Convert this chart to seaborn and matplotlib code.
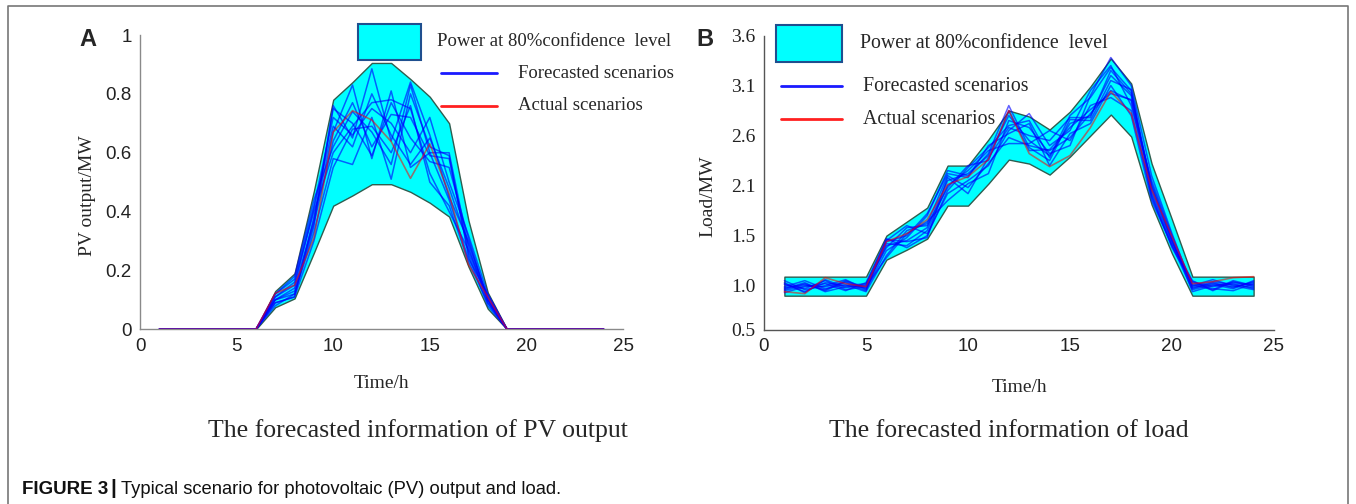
import matplotlib
matplotlib.use("Agg")
import matplotlib.pyplot as plt
from matplotlib.patches import Rectangle
from matplotlib.lines import Line2D
import seaborn as sns
import numpy as np
import pandas as pd

sns.set_style("white")
plt.rcParams['font.family'] = ['Liberation Sans', 'DejaVu Sans']

hours = list(range(1, 25))

# panel A - PV output (MW)
pv_upper = [0, 0, 0, 0, 0, 0, 0.13, 0.19, 0.47, 0.78, 0.84, 0.905, 0.905, 0.85, 0.79, 0.70, 0.37, 0.125, 0, 0, 0, 0, 0, 0]
pv_lower = [0, 0, 0, 0, 0, 0, 0.075, 0.105, 0.26, 0.42, 0.455, 0.493, 0.493, 0.467, 0.43, 0.383, 0.213, 0.07, 0, 0, 0, 0, 0, 0]
pv_actual = [0, 0, 0, 0, 0, 0, 0.122, 0.15, 0.31, 0.67, 0.743, 0.711, 0.638, 0.513, 0.63, 0.46, 0.22, 0.11, 0, 0, 0, 0, 0, 0]
pv_day = [  # hours 7..18 of each forecasted scenario, zero otherwise
    [0.10, 0.12, 0.35, 0.76, 0.65, 0.885, 0.64, 0.84, 0.66, 0.45, 0.30, 0.10],
    [0.09, 0.11, 0.38, 0.67, 0.83, 0.58, 0.81, 0.55, 0.60, 0.60, 0.28, 0.09],
    [0.11, 0.16, 0.40, 0.60, 0.69, 0.77, 0.78, 0.75, 0.53, 0.40, 0.27, 0.11],
    [0.08, 0.12, 0.33, 0.58, 0.56, 0.72, 0.51, 0.80, 0.62, 0.59, 0.25, 0.08],
    [0.12, 0.17, 0.42, 0.72, 0.66, 0.75, 0.70, 0.60, 0.72, 0.50, 0.32, 0.12],
    [0.10, 0.13, 0.36, 0.64, 0.77, 0.62, 0.73, 0.72, 0.59, 0.58, 0.26, 0.10],
    [0.09, 0.11, 0.30, 0.55, 0.68, 0.69, 0.60, 0.76, 0.50, 0.42, 0.23, 0.09],
    [0.11, 0.15, 0.41, 0.69, 0.62, 0.80, 0.66, 0.56, 0.65, 0.48, 0.29, 0.11],
    [0.10, 0.14, 0.37, 0.75, 0.70, 0.59, 0.77, 0.65, 0.57, 0.55, 0.31, 0.10],
    [0.12, 0.18, 0.44, 0.62, 0.74, 0.67, 0.56, 0.83, 0.60, 0.44, 0.24, 0.12],
]
pv_forecast = [[0] * 6 + s + [0] * 6 for s in pv_day]

# panel B - load (MW)
load_upper = [1.09] * 5 + [1.50, 1.64, 1.78, 2.20, 2.20, 2.46, 2.75, 2.69, 2.56, 2.74, 2.99, 3.27, 3.02, 2.22, 1.66] + [1.09] * 4
load_lower = [0.90] * 5 + [1.26, 1.36, 1.47, 1.80, 1.80, 2.02, 2.26, 2.22, 2.11, 2.29, 2.50, 2.71, 2.49, 1.81, 1.32] + [0.90] * 4
load_actual = [0.94, 0.92, 1.08, 1.02, 0.99, 1.44, 1.52, 1.66, 2.01, 2.09, 2.26, 2.75, 2.32, 2.19, 2.30, 2.58, 2.94, 2.72, 1.96, 1.49, 1.02, 1.04, 1.08, 1.09]
load_forecast = [
    [0.96, 1.02, 0.95, 1.04, 0.97, 1.40, 1.45, 1.58, 2.05, 2.12, 2.30, 2.70, 2.45, 2.30, 2.62, 2.70, 3.10, 2.90, 2.00, 1.45, 0.98, 1.02, 0.99, 1.03],
    [1.03, 0.93, 1.06, 0.98, 1.01, 1.47, 1.38, 1.50, 1.95, 2.18, 2.38, 2.60, 2.65, 2.28, 2.70, 2.88, 3.18, 2.95, 1.92, 1.42, 1.05, 0.95, 1.04, 0.99],
    [0.99, 1.05, 0.97, 1.01, 0.94, 1.30, 1.55, 1.62, 2.10, 1.98, 2.22, 2.48, 2.40, 2.35, 2.48, 2.72, 2.95, 2.85, 1.88, 1.40, 0.96, 1.01, 0.97, 1.05],
    [0.93, 0.99, 1.02, 0.95, 1.03, 1.45, 1.60, 1.52, 1.92, 2.05, 2.20, 2.55, 2.72, 2.40, 2.55, 2.95, 3.20, 2.80, 2.05, 1.50, 1.00, 1.06, 1.00, 0.96],
    [1.05, 0.96, 1.00, 1.06, 0.96, 1.35, 1.48, 1.70, 2.15, 2.10, 2.32, 2.80, 2.38, 2.25, 2.66, 2.65, 3.05, 2.96, 1.98, 1.46, 0.94, 1.00, 1.03, 1.01],
    [0.97, 1.03, 0.94, 0.99, 1.00, 1.42, 1.40, 1.55, 2.00, 2.15, 2.35, 2.42, 2.42, 2.55, 2.45, 2.80, 2.88, 2.75, 1.90, 1.38, 1.03, 0.97, 0.95, 1.02],
    [1.01, 0.97, 1.05, 0.96, 0.99, 1.28, 1.52, 1.64, 1.85, 2.02, 2.12, 2.65, 2.58, 2.32, 2.40, 2.90, 3.28, 3.00, 2.10, 1.52, 0.99, 1.04, 1.01, 0.98],
    [0.95, 1.00, 0.99, 1.03, 0.95, 1.46, 1.44, 1.48, 2.08, 1.92, 2.28, 2.58, 2.50, 2.45, 2.68, 2.68, 3.15, 2.92, 1.95, 1.44, 1.01, 0.96, 1.05, 1.00],
    [1.02, 0.94, 1.03, 1.00, 1.02, 1.38, 1.58, 1.60, 1.98, 2.20, 2.25, 2.75, 2.35, 2.36, 2.58, 2.76, 2.92, 2.86, 2.02, 1.48, 0.97, 1.03, 0.98, 1.04],
    [0.98, 1.01, 0.96, 1.05, 0.98, 1.44, 1.50, 1.72, 2.12, 2.08, 2.40, 2.52, 2.62, 2.20, 2.52, 2.62, 3.00, 2.70, 1.85, 1.40, 1.04, 0.99, 1.02, 0.97],
]

xticks = [0, 5, 10, 15, 20, 25]
pv_yticks = [0, 0.2, 0.4, 0.6, 0.8, 1]
pv_yticklabels = ['0', '0.2', '0.4', '0.6', '0.8', '1']
load_yticks = [0.557, 1.0, 1.5, 2.0, 2.5, 3.0, 3.5]
load_yticklabels = ['0.5', '1.0', '1.5', '2.1', '2.6', '3.1', '3.6']

W, H = 1356, 504
fig = plt.figure(figsize=(W / 100, H / 100), dpi=100)
fig.patch.set_facecolor('white')

def px(x, y):
    return x / W, 1 - y / H

serif = ['Liberation Serif', 'DejaVu Serif']
cyan = '#00FFFF'
band_edge = '#2f5d4f'

def draw_panel(ax, upper, lower, actual, forecast, axis_color):
    ax.fill_between(hours, lower, upper, color=cyan, edgecolor=band_edge, linewidth=1.0, zorder=1)
    for s in forecast:
        sns.lineplot(x=hours, y=s, ax=ax, color='#0000ff', linewidth=1.1, alpha=0.62, zorder=2)
    sns.lineplot(x=hours, y=actual, ax=ax, color='#ff0000', linewidth=1.2, alpha=0.55, zorder=3)
    ax.set_xlim(0, 25)
    ax.set_xticks(xticks)
    for side in ['top', 'right']:
        ax.spines[side].set_visible(False)
    for side in ['left', 'bottom']:
        ax.spines[side].set_color(axis_color)
        ax.spines[side].set_linewidth(1.0)
    ax.tick_params(direction='in', length=4, width=1, color=axis_color, pad=6,
                   labelcolor='#222222')
    ax.set_xlabel('')
    ax.set_ylabel('')

axA = fig.add_axes([140 / W, 1 - 329.3 / H, (623 - 140) / W, (329.3 - 35) / H])
draw_panel(axA, pv_upper, pv_lower, pv_actual, pv_forecast, '#8a8a8a')
axA.set_ylim(0, 1)
axA.set_yticks(pv_yticks)
axA.set_yticklabels(pv_yticklabels)
for t in axA.get_xticklabels() + axA.get_yticklabels():
    t.set_fontsize(13.5)

axB = fig.add_axes([764 / W, 1 - 330 / H, (1274 - 764) / W, (330 - 35.5) / H])
draw_panel(axB, load_upper, load_lower, load_actual, load_forecast, '#555555')
axB.set_ylim(0.557, 3.5)
axB.set_yticks(load_yticks)
axB.set_yticklabels(load_yticklabels)
for t in axB.get_xticklabels():
    t.set_fontsize(13.5)
for t in axB.get_yticklabels():
    t.set_fontsize(14)
    t.set_family(serif)

# axis labels
fig.text(*px(88, 196), 'PV output/MW', family=serif, fontsize=14, rotation=90, ha='center', va='center')
fig.text(*px(381, 383), 'Time/h', family=serif, fontsize=14, ha='center', va='center')
fig.text(*px(708, 196), 'Load/MW', family=serif, fontsize=14, rotation=90, ha='center', va='center')
fig.text(*px(1019, 388), 'Time/h', family=serif, fontsize=14, ha='center', va='center')

# panel captions
fig.text(*px(418, 431), 'The forecasted information of PV output', family=serif, fontsize=18.5, ha='center', va='center')
fig.text(*px(1009, 431), 'The forecasted information of load', family=serif, fontsize=18.5, ha='center', va='center')

# panel letters
fig.text(*px(88, 39), 'A', fontsize=17, fontweight='bold', ha='center', va='center')
fig.text(*px(705, 39), 'B', fontsize=17, fontweight='bold', ha='center', va='center')

# legends
def draw_legend(patch_box, line_x, text_x1, text_x2, y_power, y_fore, y_act, fs):
    x0, y0, x1, y1 = patch_box
    fig.add_artist(Rectangle(px(x0, y1), (x1 - x0) / W, (y1 - y0) / H, transform=fig.transFigure,
                             facecolor=cyan, edgecolor='#1f4f8f', linewidth=1.5))
    fig.text(*px(text_x1, y_power), 'Power at 80%confidence  level', family=serif, fontsize=fs, va='center')
    fig.add_artist(Line2D([line_x[0] / W, line_x[1] / W], [1 - y_fore / H] * 2, transform=fig.transFigure,
                          color='#1a1aff', linewidth=2))
    fig.text(*px(text_x2, y_fore), 'Forecasted scenarios', family=serif, fontsize=fs, va='center')
    fig.add_artist(Line2D([line_x[0] / W, line_x[1] / W], [1 - y_act / H] * 2, transform=fig.transFigure,
                          color='#ff2020', linewidth=2))
    fig.text(*px(text_x2, y_act), 'Actual scenarios', family=serif, fontsize=fs, va='center')

draw_legend((358, 24, 421, 60), (441, 497), 437, 518, 42, 73, 106, 13.5)
draw_legend((776, 25, 842, 62), (781, 842), 860, 863, 43, 86, 119, 14.3)

# figure caption
fig.text(*px(22, 490), 'FIGURE 3', fontweight='bold', fontsize=13.5, va='center', color='#111111')
fig.text(*px(110, 489), '|', fontweight='bold', fontsize=15, va='center', color='#111111')
fig.text(*px(121, 490), 'Typical scenario for photovoltaic (PV) output and load.', fontsize=13.2, va='center', color='#111111')

# frame around the figure
fig.add_artist(Line2D([8 / W, 8 / W, 1348 / W, 1348 / W], [0, 1 - 6 / H, 1 - 6 / H, 0],
                      transform=fig.transFigure, color='#777777', linewidth=1.2))

fig.savefig('out.png', dpi=100)
